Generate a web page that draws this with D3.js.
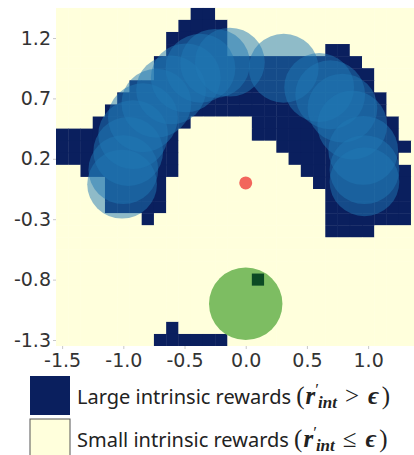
<!DOCTYPE html>
<html><head><meta charset="utf-8">
<script src="https://cdn.jsdelivr.net/npm/d3@7"></script>
<style>body{margin:0;background:#fff;} svg{display:block;}</style>
</head><body><svg id="c" width="414" height="455"></svg>
<script>
// ---- data ----
const xTicks = [-1.5, -1.0, -0.5, 0.0, 0.5, 1.0];
const yTicks = [1.2, 0.7, 0.2, -0.3, -0.8, -1.3];
// grid cell centres (step 0.1)
const gridX = d3.range(30).map(i => +(-1.5 + 0.1 * i).toFixed(1));
const gridY = d3.range(28).map(j => +(1.4 - 0.1 * j).toFixed(1));
// runs of "large intrinsic reward" cells: [y, xStart, xEnd]
const largeRuns = [
  [1.4, -0.4, -0.3],
  [1.3, -0.5, -0.2],
  [1.2, -0.6, -0.2],
  [1.1, -0.6, -0.2], [1.1, 0.7, 0.8],
  [1.0, -0.7, 0.9],
  [0.9, -0.7, 1.0],
  [0.8, -0.9, 1.0],
  [0.7, -1.0, 1.1],
  [0.6, -1.1, 1.1],
  [0.5, -1.2, -0.5], [0.5, 0.1, 1.2],
  [0.4, -1.5, -0.6], [0.4, 0.1, 1.2],
  [0.3, -1.5, -0.6], [0.3, 0.3, 1.3],
  [0.2, -1.5, -0.6], [0.2, 0.4, 1.2],
  [0.1, -1.3, -0.6], [0.1, 0.5, 1.3],
  [0.0, -1.1, -0.7], [0.0, 0.6, 1.3],
  [-0.1, -1.1, -0.7], [-0.1, 0.7, 1.3],
  [-0.2, -1.1, -0.7], [-0.2, 0.7, 1.3],
  [-0.3, -0.8, -0.8], [-0.3, 0.7, 1.3],
  [-0.4, 0.7, 1.0],
  [-1.2, -0.6, -0.6],
  [-1.3, -0.7, -0.2]
];
// visited states (blue discs)
const trajX = [-1.01, -1.00, -0.96, -0.92, -0.84, -0.73, -0.61, -0.49, -0.37, -0.25, -0.13, 0.31, 0.60, 0.69, 0.79, 0.87, 0.96, 0.97, 0.97];
const trajY = [-0.01, 0.11, 0.26, 0.40, 0.54, 0.66, 0.77, 0.87, 0.95, 0.99, 1.00, 0.95, 0.79, 0.73, 0.62, 0.48, 0.27, 0.11, 0.01];
const discR = 0.285;
const startPt = [0.0, 0.0];
const goalPt = [0.0, -1.0];
const goalR = 0.3;
const agentPt = [0.1, -0.8];
const legendLabels = ["Large intrinsic rewards", "Small intrinsic rewards"];
const legendOps = [">", "\u2264"];

// ---- scales ----
const x = d3.scaleLinear().domain([-1.55, 1.45]).range([56, 56 + 3.0 * 122.4]);
const y = d3.scaleLinear().domain([1.45, -1.35]).range([7.8, 7.8 + 2.8 * 120.8]);
const cw = x(0.1) - x(0), ch = y(0) - y(0.1);

const NAVY = "#0a1f5e", CREAM = "#ffffdc";
const svg = d3.select("#c");
svg.append("defs").append("clipPath").attr("id", "pc")
  .append("rect").attr("x", x(-1.55)).attr("y", y(1.45))
  .attr("width", x(1.45) - x(-1.55)).attr("height", y(-1.35) - y(1.45));

const key = (a, b) => Math.round(a * 10) + "," + Math.round(b * 10);
const large = new Set();
largeRuns.forEach(([yy, x0, x1]) => {
  for (let k = Math.round(x0 * 10); k <= Math.round(x1 * 10); k++) large.add(key(k / 10, yy));
});
const cells = [];
gridY.forEach(yy => gridX.forEach(xx => cells.push({x: xx, y: yy, l: large.has(key(xx, yy))})));

const plot = svg.append("g").attr("clip-path", "url(#pc)");
plot.selectAll("rect.cell").data(cells).join("rect").attr("class", "cell")
  .attr("x", d => x(d.x - 0.05)).attr("y", d => y(d.y + 0.05))
  .attr("width", cw + 0.4).attr("height", ch + 0.4)
  .attr("fill", d => d.l ? NAVY : CREAM);

plot.selectAll("ellipse.vis").data(trajX.map((v, i) => [v, trajY[i]])).join("ellipse")
  .attr("class", "vis")
  .attr("cx", d => x(d[0])).attr("cy", d => y(d[1]))
  .attr("rx", x(discR) - x(0)).attr("ry", y(0) - y(discR))
  .attr("fill", "#1f77b4").attr("fill-opacity", 0.5);

plot.append("ellipse").attr("cx", x(goalPt[0])).attr("cy", y(goalPt[1]))
  .attr("rx", x(goalR) - x(0)).attr("ry", y(0) - y(goalR))
  .attr("fill", "#7dbd62");
plot.append("rect").attr("x", x(agentPt[0] - 0.05)).attr("y", y(agentPt[1] + 0.05))
  .attr("width", cw).attr("height", ch).attr("fill", "#0b4a24");
plot.append("circle").attr("cx", x(startPt[0])).attr("cy", y(startPt[1]))
  .attr("r", 6.5).attr("fill", "#f2665c");

// ---- axes ----
const fmt = d => d.toFixed(1).replace("\u2212", "-");
const ax = svg.append("g").attr("transform", `translate(0,${y(-1.35)})`)
  .call(d3.axisBottom(x).tickValues(xTicks).tickSize(3).tickPadding(4).tickFormat(fmt));
const ay = svg.append("g").attr("transform", `translate(${x(-1.55)},0)`)
  .call(d3.axisLeft(y).tickValues(yTicks).tickSize(3).tickPadding(2).tickFormat(fmt));
[ax, ay].forEach(a => {
  a.select(".domain").remove();
  a.selectAll("line").attr("stroke", "#c8c8c8");
  a.selectAll("text").attr("font-family", "DejaVu Sans").attr("font-size", 19).attr("fill", "#333");
});

// ---- legend ----
const lg = svg.append("g");
const ly = [376, 419];
const lb = [404, 447];
lg.selectAll("rect").data([NAVY, CREAM]).join("rect")
  .attr("x", 30).attr("y", (d, i) => ly[i]).attr("width", 40).attr("height", 39)
  .attr("fill", d => d).attr("stroke", (d, i) => i ? "#555" : "none").attr("stroke-width", 1);
const SERIF = "Liberation Serif";
legendLabels.forEach((lab, i) => {
  const t = lg.append("text").attr("x", 77).attr("y", lb[i])
    .attr("font-family", "Noto Sans").attr("font-size", 20).attr("fill", "#222");
  t.append("tspan").text(lab + " ");
  t.append("tspan").attr("font-family", SERIF).attr("font-size", 25).text("(");
  t.append("tspan").attr("font-family", SERIF).attr("font-style", "italic").attr("font-weight", "bold").attr("font-size", 25).attr("dx", 1).text("r");
  t.append("tspan").attr("font-family", SERIF).attr("font-size", 17).attr("dy", -9).text("\u2032");
  t.append("tspan").attr("font-family", SERIF).attr("font-style", "italic").attr("font-weight", "bold").attr("font-size", 17).attr("dx", -1).attr("dy", 13).text("int");
  t.append("tspan").attr("font-family", SERIF).attr("font-size", 25).attr("dx", 8).attr("dy", -4).text(legendOps[i]);
  t.append("tspan").attr("font-family", SERIF).attr("font-style", "italic").attr("font-weight", "bold").attr("font-size", 25).attr("dx", 9).text("\u03f5");
  t.append("tspan").attr("font-family", SERIF).attr("font-size", 25).attr("dx", 3).text(")");
});
</script></body></html>
